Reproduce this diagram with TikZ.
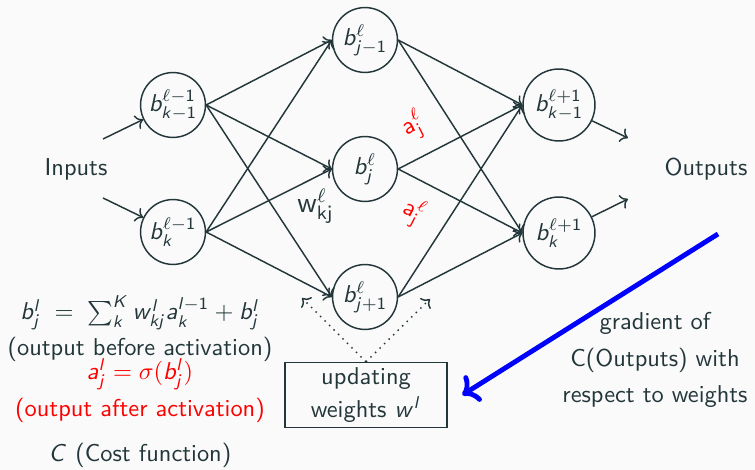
\documentclass[tikz,border=0pt]{standalone}
\usetikzlibrary{arrows.meta}

\renewcommand{\familydefault}{\sfdefault}
% Buchstaben in Formeln serifenlos und geneigt
\DeclareSymbolFont{sfup}{OT1}{cmss}{m}{n}
\DeclareSymbolFont{sfit}{OT1}{cmss}{m}{sl}
\DeclareMathSymbol{a}{\mathalpha}{sfit}{`a}
\DeclareMathSymbol{b}{\mathalpha}{sfit}{`b}
\DeclareMathSymbol{j}{\mathalpha}{sfit}{`j}
\DeclareMathSymbol{k}{\mathalpha}{sfit}{`k}
\DeclareMathSymbol{l}{\mathalpha}{sfit}{`l}
\DeclareMathSymbol{w}{\mathalpha}{sfit}{`w}
\DeclareMathSymbol{C}{\mathalpha}{sfit}{`C}
\DeclareMathSymbol{K}{\mathalpha}{sfit}{`K}
\DeclareMathSymbol{1}{\mathalpha}{sfup}{`1}

\definecolor{schiefer}{HTML}{23373B}
\definecolor{hintergrund}{HTML}{FAFAFA}

\tikzset{
	neuron/.style={circle, draw=schiefer, minimum size=26.6pt, inner sep=0.5pt},
	neuronaus/.style={neuron, minimum size=29.5pt},
	verb/.style={->, draw=schiefer},
}

\begin{document}
\begin{tikzpicture}[x=0.41pt, y=0.41pt, color=schiefer, line width=0.6pt]
		\fill[hintergrund] (0, 0) rectangle (755, 470);
		\useasboundingbox (0, 0) rectangle (755, 470);
		% Linke Schicht
		\begin{scope}
			\node[neuron] (km1) at (173, 365) {$b^{\ell-1}_{k-1}$};
			\node[neuron] (k) at (173, 238) {$b^{\ell-1}_{k}$};
			\node (inputs) at (76, 301) {Inputs};
			\coordinate (in1) at (103, 331);
			\coordinate (in2) at (103, 272);
		\end{scope}
		% Mittlere Schicht
		\begin{scope}
			\node[neuron] (jm1) at (365, 430) {$b^{\ell}_{j-1}$};
			\node[neuron] (j) at (365, 301) {$b^{\ell}_{j}$};
			\node[neuron] (jp1) at (365, 173) {$b^{\ell}_{j+1}$};
		\end{scope}
		% Rechte Schicht
		\begin{scope}
			\node[neuronaus] (okm1) at (559, 365) {$b^{\ell+1}_{k-1}$};
			\node[neuronaus] (ok) at (559, 237) {$b^{\ell+1}_{k}$};
			\node (outputs) at (706, 301) {Outputs};
			\coordinate (out1) at (628, 332);
			\coordinate (out2) at (628, 271);
		\end{scope}
		% Linien
		\draw[verb] (in1) -- (km1);
		\draw[verb] (in2) -- (k);
		\draw[verb] (okm1) -- (out1);
		\draw[verb] (ok) -- (out2);
		\foreach \a in {km1, k}
			\foreach \b in {jm1, j, jp1}
				\draw[verb] (\a.east) -- (\b.west);
		\foreach \a in {jm1, j, jp1}
			\foreach \b in {okm1, ok}
				\draw[verb] (\a.east) -- (\b.west);
		% Gewichte und Aktivierungen
		\path (k.east) -- (j.west) node[pos=0.87, below=1pt, font=\large] (wkj) {$\mathsf{w}^{\ell}_{\mathsf{kj}}$};
		\path (j.east) -- (okm1.west) node[red, pos=0.24, above=3pt, sloped] (aoben) {$\mathsf{a}^{\ell}_{\mathsf{j}}$};
		\path (j.east) -- (ok.west) node[red, pos=0.24, below=3pt, sloped] (aunten) {$\mathsf{a}^{\ell}_{\mathsf{j}}$};
		% Formeln links unten
		\node (summe) at (140, 157) {$b^l_j \;=\; \sum_k^K w^l_{kj} a^{l-1}_k + b^l_j$};
		\node (vorher) at (140, 121) {(output before activation)};
		\node[red] (akt) at (140, 96) {$a^l_j = \sigma(b^l_j)$};
		\node[red] (nachher) at (140, 60) {(output after activation)};
		\node (kosten) at (140, 15) {$C$ (Cost function)};
		% Kasten und Gradient
		\node[draw, align=center, minimum width=66.4pt, minimum height=26.6pt, inner sep=1pt,
			font=\fontsize{10}{13.5}\selectfont] (upd) at (366, 75) {updating\\weights $w^l$};
		\coordinate (zl) at (302, 172);
		\coordinate (zr) at (430, 171);
		\draw[dotted, ->] (upd.north) -- (zl);
		\draw[dotted, ->] (upd.north) -- (zr);
		\node[align=center, font=\fontsize{10}{14.8}\selectfont] (grad) at (655, 110)
			{gradient of\\C(Outputs) with\\respect to weights};
		\coordinate (gstart) at (718, 236);
		\draw[->, blue, line width=2pt] (gstart) -- ([xshift=6pt]upd.east);
	\end{tikzpicture}
\end{document}
